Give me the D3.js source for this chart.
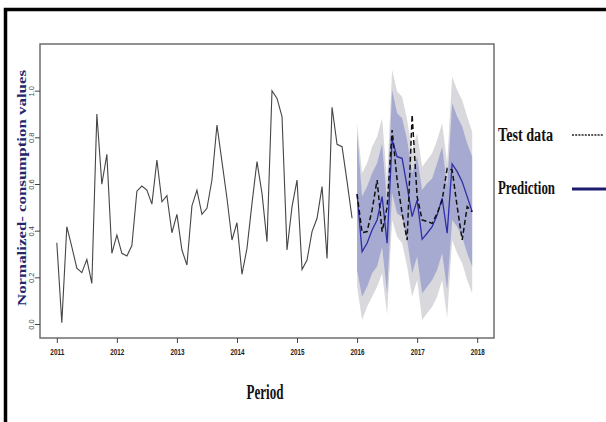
<!DOCTYPE html>
<html><head><meta charset="utf-8">
<script src="https://cdn.jsdelivr.net/npm/d3@7"></script>
<style>body{margin:0;background:#fff}svg{display:block}</style>
</head><body>
<svg id="c" width="606" height="422"></svg>
<script>
// ---- data ----
const histStart = 2011;          // monthly series, Jan 2011 .. Dec 2015
const histValues = [0.348,0.005,0.417,0.331,0.239,0.220,0.277,0.174,0.900,0.599,0.727,0.303,
                    0.381,0.303,0.291,0.336,0.569,0.591,0.574,0.514,0.703,0.524,0.550,0.391,
                    0.470,0.317,0.253,0.506,0.574,0.470,0.496,0.617,0.853,0.696,0.539,0.360,
                    0.434,0.213,0.324,0.517,0.696,0.560,0.353,1.000,0.967,0.889,0.317,0.503,
                    0.617,0.234,0.274,0.396,0.453,0.589,0.281,0.929,0.770,0.760,0.610,0.453];
const fcStart = 2016;            // monthly, Jan 2016 .. Dec 2017
const testValues = [0.557,0.391,0.396,0.489,0.617,0.396,0.500,0.831,0.617,0.474,0.360,0.896,
                    0.546,0.446,0.439,0.431,0.474,0.531,0.667,0.660,0.503,0.360,0.503,0.481];
const predValues = [0.557,0.310,0.346,0.403,0.446,0.546,0.346,0.789,0.717,0.710,0.589,0.460,
                    0.531,0.363,0.389,0.417,0.467,0.539,0.389,0.686,0.653,0.610,0.546,0.481];
const hi95 = [0.860,0.646,0.689,0.760,0.803,0.882,0.617,1.089,0.996,0.974,0.874,0.746,
              0.817,0.674,0.703,0.732,0.789,0.860,0.689,1.060,1.003,0.960,0.889,0.824];
const hi80 = [0.817,0.546,0.589,0.646,0.689,0.774,0.517,1.003,0.903,0.882,0.789,0.646,
              0.717,0.574,0.603,0.624,0.689,0.760,0.589,0.946,0.889,0.846,0.774,0.717];
const lo80 = [0.231,0.117,0.160,0.217,0.246,0.331,0.131,0.560,0.474,0.460,0.360,0.217,
              0.289,0.131,0.160,0.189,0.231,0.303,0.146,0.446,0.417,0.374,0.303,0.246];
const lo95 = [0.160,0.017,0.074,0.117,0.160,0.217,0.040,0.446,0.374,0.346,0.246,0.117,
              0.189,0.017,0.046,0.074,0.117,0.189,0.026,0.360,0.303,0.260,0.189,0.131];
const xTickValues = [2011,2012,2013,2014,2015,2016,2017,2018];
const yTickValues = [0.0,0.2,0.4,0.6,0.8,1.0];
const yTitle = "Normalized- consumption values";
const xTitle = "Period";
const legendLabels = ["Test data","Prediction"];

// ---- drawing ----
const svg = d3.select("#c");
const L = 40, R = 494, T = 44, B = 338;
const x = d3.scaleLinear().domain([2010.72, 2018.28]).range([L, R]);
const y = d3.scaleLinear().domain([-0.06, 1.2]).range([B, T]);

// outer frame
svg.append("rect").attr("x",5.5).attr("y",9.5).attr("width",640).attr("height",440)
  .attr("fill","none").attr("stroke","#000").attr("stroke-width",3.5);

const hist = histValues.map((v,i)=>({t:histStart+i/12, v}));
const fc = predValues.map((v,i)=>({t:fcStart+i/12, p:v, test:testValues[i],
  a:lo95[i], b:hi95[i], c:lo80[i], d:hi80[i]}));

svg.append("path").datum(fc).attr("fill","#d9d9dd")
  .attr("d", d3.area().x(d=>x(d.t)).y0(d=>y(d.a)).y1(d=>y(d.b)));
svg.append("path").datum(fc).attr("fill","#a6aad0")
  .attr("d", d3.area().x(d=>x(d.t)).y0(d=>y(d.c)).y1(d=>y(d.d)));

svg.append("path").datum(hist).attr("fill","none").attr("stroke","#454545").attr("stroke-width",1.1)
  .attr("d", d3.line().x(d=>x(d.t)).y(d=>y(d.v)));
svg.append("path").datum(fc).attr("fill","none").attr("stroke","#2e2ea6").attr("stroke-width",1.3)
  .attr("d", d3.line().x(d=>x(d.t)).y(d=>y(d.p)));
svg.append("path").datum(fc).attr("fill","none").attr("stroke","#111").attr("stroke-width",1.5)
  .attr("stroke-dasharray","5,3")
  .attr("d", d3.line().x(d=>x(d.t)).y(d=>y(d.test)));

// plot box
svg.append("rect").attr("x",L).attr("y",T).attr("width",R-L).attr("height",B-T)
  .attr("fill","none").attr("stroke","#6e6e6e").attr("stroke-width",1.5);

// x axis
const xa = svg.append("g").attr("transform",`translate(0,${B})`)
  .call(d3.axisBottom(x).tickValues(xTickValues).tickFormat(d3.format("d")).tickSize(5).tickSizeOuter(0));
xa.select(".domain").remove();
xa.selectAll("line").attr("stroke","#444");
xa.selectAll("text").attr("font-family","Liberation Sans, Arial").attr("font-size",9).attr("font-weight","bold")
  .attr("fill","#222").attr("dy","1.0em").attr("textLength",14).attr("lengthAdjust","spacingAndGlyphs");

// y axis
const ya = svg.append("g").attr("transform",`translate(${L},0)`)
  .call(d3.axisLeft(y).tickValues(yTickValues).tickFormat(d3.format(".1f")).tickSize(5).tickSizeOuter(0));
ya.select(".domain").remove();
ya.selectAll("line").attr("stroke","#444");
ya.selectAll(".tick text").attr("font-family","Liberation Sans, Arial").attr("font-size",7.5)
  .attr("fill","#444").attr("text-anchor","middle")
  .attr("x", null).attr("y", null).attr("dy","0")
  .attr("transform","translate(-6,0) rotate(-90)");

// titles
svg.append("text").attr("transform",`translate(26,188) rotate(-90)`)
  .attr("text-anchor","middle").attr("font-family","Liberation Serif, Times New Roman").attr("font-weight","bold")
  .attr("font-size",12).attr("fill","#26266a").attr("textLength",236).attr("lengthAdjust","spacingAndGlyphs")
  .text(yTitle);
svg.append("text").attr("x",265).attr("y",399).attr("text-anchor","middle")
  .attr("font-family","Liberation Serif, Times New Roman").attr("font-weight","bold").attr("font-size",21)
  .attr("fill","#111").attr("textLength",37).attr("lengthAdjust","spacingAndGlyphs").text(xTitle);

// legend
svg.append("text").attr("x",498).attr("y",141).attr("font-family","Liberation Serif, Times New Roman")
  .attr("font-weight","bold").attr("font-size",18).attr("fill","#111")
  .attr("textLength",55).attr("lengthAdjust","spacingAndGlyphs").text(legendLabels[0]);
svg.append("line").attr("x1",572).attr("x2",603).attr("y1",135).attr("y2",135)
  .attr("stroke","#222").attr("stroke-width",1.5).attr("stroke-dasharray","2,1.2");
svg.append("text").attr("x",498).attr("y",194).attr("font-family","Liberation Serif, Times New Roman")
  .attr("font-weight","bold").attr("font-size",18).attr("fill","#111")
  .attr("textLength",57).attr("lengthAdjust","spacingAndGlyphs").text(legendLabels[1]);
svg.append("line").attr("x1",572).attr("x2",606).attr("y1",189).attr("y2",189)
  .attr("stroke","#1c1c6e").attr("stroke-width",2.8);
</script>
</body></html>
